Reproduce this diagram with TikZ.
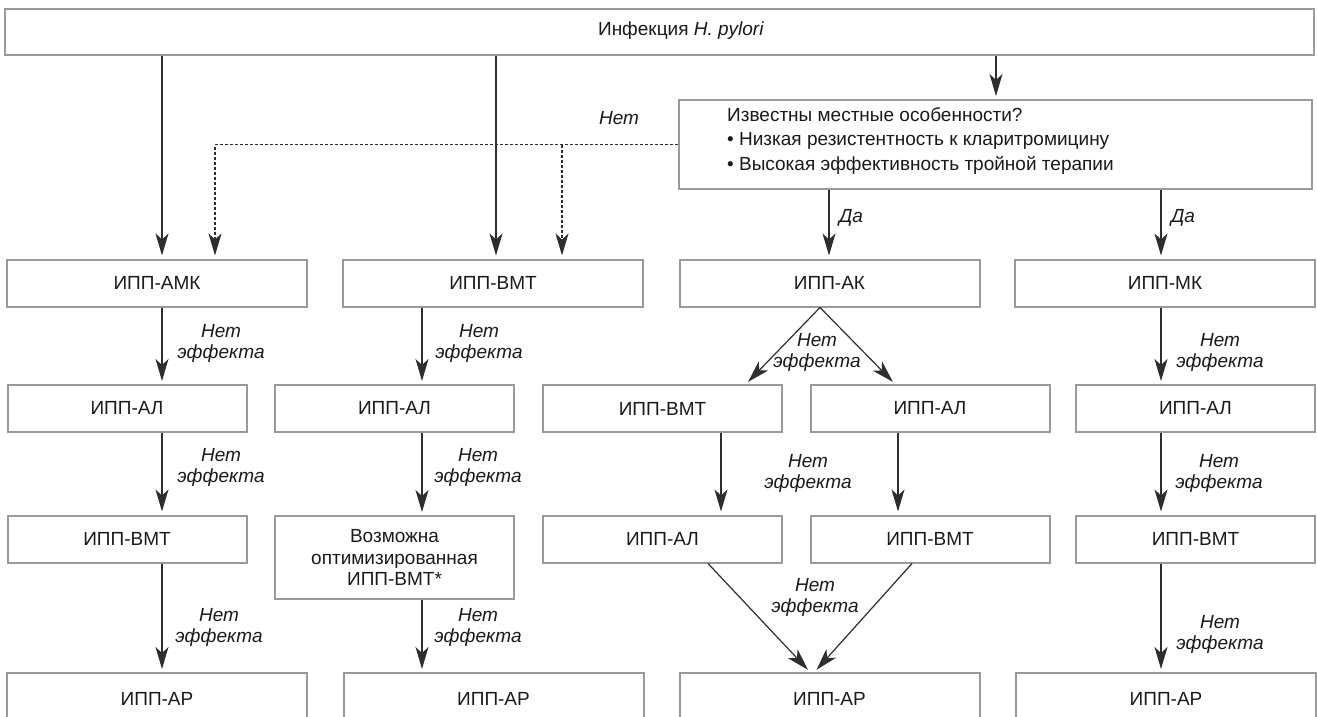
\documentclass[tikz,border=0pt]{standalone}
\usepackage{fontspec}
\setmainfont{Liberation Sans}
\usetikzlibrary{arrows.meta,calc}
\definecolor{boxgray}{HTML}{9A9A9A}
\definecolor{linegray}{HTML}{2E2E2E}
\definecolor{txt}{HTML}{1A1A1A}
\begin{document}
\begin{tikzpicture}[x=1pt,y=-1pt,
  box/.style={draw=boxgray, line width=2pt, inner sep=0pt, minimum height=47pt, text=txt,
    font=\fontsize{19}{21.5}\selectfont, align=center},
  wbox/.style={box, minimum width=300pt},
  nbox/.style={box, minimum width=239pt},
  bbox/.style={wbox, anchor=north, minimum height=52pt},
  arr/.style={draw=linegray, line width=1.2pt, -{Stealth[length=22pt,width=13pt,inset=6pt]}, shorten >=3pt},
  dasharr/.style={arr, dash pattern=on 3pt off 2pt},
  lbl/.style={font=\fontsize{19}{21}\selectfont\itshape, text=txt, align=center, inner sep=0pt},
  plain/.style={font=\fontsize{19}{24.5}\selectfont, text=txt, inner sep=0pt},
]
\useasboundingbox (0,0) rectangle (1317,717);
\fill[white] (0,0) rectangle (1317,717);
\clip (0,0) rectangle (1317,717);

% boxes
\node[box, minimum width=1309pt, minimum height=46pt] (top) at (659.5,32) {};
\node[plain] (toptext) at (681,31) {Инфекция \textit{H. pylori}};
\node[box, minimum width=633pt, minimum height=89pt] (q) at (995.5,144.5) {};
\node[plain, anchor=west, align=left] (qt) at (727,141)
  {Известны местные особенности?\\• Низкая резистентность к кларитромицину\\• Высокая эффективность тройной терапии};

\node[wbox] (a1) at (157,283) {ИПП-АМК};
\node[wbox] (b1) at (493,283) {ИПП-ВМТ};
\node[wbox] (c1) at (829.5,283) {ИПП-АК};
\node[wbox] (d1) at (1165,283) {ИПП-МК};

\node[nbox] (a2) at (127,408.5) {ИПП-АЛ};
\node[nbox] (b2) at (394.5,408.5) {ИПП-АЛ};
\node[nbox] (c2a) at (662.5,408.5) {ИПП-ВМТ};
\node[nbox] (c2b) at (930,408.5) {ИПП-АЛ};
\node[nbox] (d2) at (1195.5,408.5) {ИПП-АЛ};

\node[nbox] (a3) at (127,539) {ИПП-ВМТ};
\node[nbox, minimum height=83pt] (b3) at (394.5,557.5) {Возможна\\оптимизированная\\ИПП-ВМТ*};
\node[nbox] (c3a) at (662.5,539) {ИПП-АЛ};
\node[nbox] (c3b) at (930,539) {ИПП-ВМТ};
\node[nbox] (d3) at (1195.5,539) {ИПП-ВМТ};

\node[bbox] (a4) at (157,672) {ИПП-АР};
\node[bbox] (b4) at (493.5,672) {ИПП-АР};
\node[bbox] (c4) at (829.5,672) {ИПП-АР};
\node[bbox] (d4) at (1166,672) {ИПП-АР};

% helper x positions
\coordinate (xa) at (162,0);
\coordinate (xad) at (215,0);
\coordinate (xb) at (496,0);
\coordinate (xbd) at (562,0);
\coordinate (xq) at (996,0);
\coordinate (xc) at (829,0);
\coordinate (xd) at (1161,0);
\coordinate (xb2) at (422,0);
\coordinate (xc2a) at (721,0);
\coordinate (xc2b) at (898,0);

% connectors
\draw[arr] (top.south -| xa) -- (a1.north -| xa);
\draw[arr] (top.south -| xb) -- (b1.north -| xb);
\draw[arr] (top.south -| xq) -- (q.north -| xq);
\draw[dasharr] (q.west) -| (a1.north -| xad);
\draw[dasharr] (q.west -| xbd) -- (b1.north -| xbd);
\draw[arr] (q.south -| xc) -- (c1.north -| xc);
\draw[arr] (q.south -| xd) -- (d1.north -| xd);

\draw[arr] (a1.south -| xa) -- (a2.north -| xa);
\draw[arr] (a2.south -| xa) -- (a3.north -| xa);
\draw[arr] (a3.south -| xa) -- (a4.north -| xa);

\draw[arr] (b1.south -| xb2) -- (b2.north -| xb2);
\draw[arr] (b2.south -| xb2) -- (b3.north -| xb2);
\draw[arr] (b3.south -| xb2) -- (b4.north -| xb2);

\draw[arr] ($(c1.south)+(-9.5,0)$) -- ($(c2a.north)+(83.5,0)$);
\draw[arr] ($(c1.south)+(-9.5,0)$) -- ($(c2b.north)+(-35,0)$);
\draw[arr] (c2a.south -| xc2a) -- (c3a.north -| xc2a);
\draw[arr] (c2b.south -| xc2b) -- (c3b.north -| xc2b);
\draw[arr] ($(c3a.south)+(45.5,0)$) -- ($(c4.north)+(-19.5,0)$);
\draw[arr] ($(c3b.south)+(-18,0)$) -- ($(c4.north)+(-15,0)$);

\draw[arr] (d1.south -| xd) -- (d2.north -| xd);
\draw[arr] (d2.south -| xd) -- (d3.north -| xd);
\draw[arr] (d3.south -| xd) -- (d4.north -| xd);

% labels
\node[lbl] (lno) at (619,118) {Нет};
\node[lbl] (lyes1) at (851,218) {Да};
\node[lbl] (lyes2) at (1183,218) {Да};
\node[lbl] (la1) at (221,343) {Нет\\эффекта};
\node[lbl] (lb1) at (479,343) {Нет\\эффекта};
\node[lbl] (lc1) at (817,352) {Нет\\эффекта};
\node[lbl] (ld1) at (1220,352) {Нет\\эффекта};
\node[lbl] (la2) at (221,467) {Нет\\эффекта};
\node[lbl] (lb2) at (478,467) {Нет\\эффекта};
\node[lbl] (lc2) at (808,473) {Нет\\эффекта};
\node[lbl] (ld2) at (1219,473) {Нет\\эффекта};
\node[lbl] (la3) at (219,627) {Нет\\эффекта};
\node[lbl] (lb3) at (478,627) {Нет\\эффекта};
\node[lbl] (lc3) at (815,597) {Нет\\эффекта};
\node[lbl] (ld3) at (1220,634) {Нет\\эффекта};
\end{tikzpicture}
\end{document}
